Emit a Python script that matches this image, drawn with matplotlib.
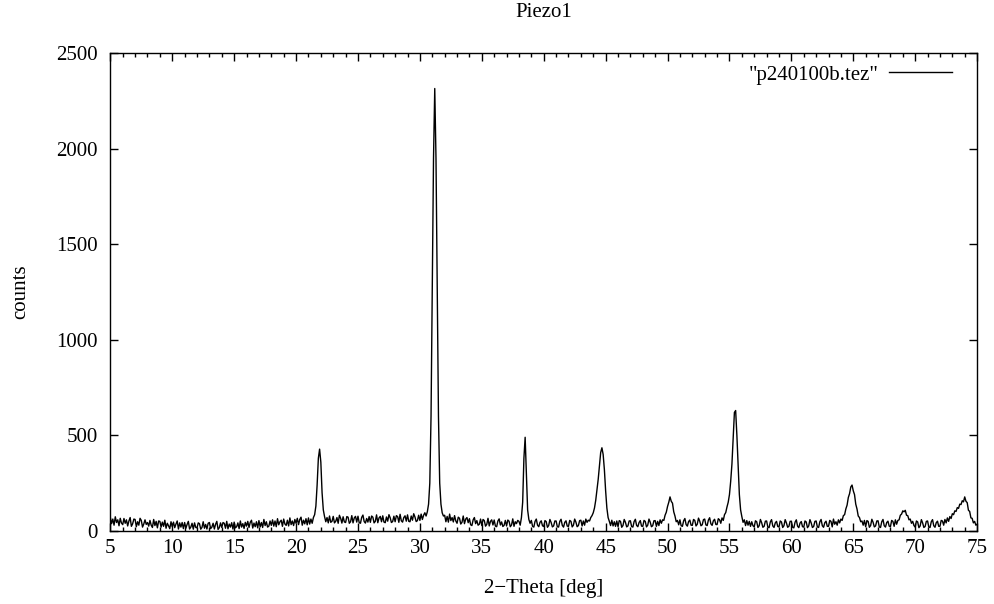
import numpy as np
import matplotlib
matplotlib.use("Agg")
import matplotlib.pyplot as plt
from matplotlib.ticker import MultipleLocator

plt.rcParams["font.family"] = ["Liberation Serif", "DejaVu Serif"]

# === Data: XRD scan, 0.1 deg steps from 5.0 to 75.0 ===
theta_start, theta_step = 5.0, 0.1
counts_rows = [
    [70, 38, 62, 30, 74, 44, 58, 27, 66, 41],              # 5
    [33, 65, 40, 58, 26, 52, 70, 24, 37, 62],              # 6
    [60, 22, 48, 30, 66, 55, 20, 36, 58, 34],              # 7
    [44, 25, 55, 30, 18, 60, 28, 50, 16, 52],              # 8
    [50, 20, 46, 24, 56, 14, 40, 27, 12, 48],              # 9
    [22, 46, 17, 36, 52, 10, 42, 20, 44, 12],              # 10
    [44, 14, 34, 50, 10, 20, 40, 9, 42, 18],               # 11
    [16, 42, 38, 9, 18, 48, 14, 34, 10, 40],               # 12
    [44, 12, 20, 40, 10, 35, 50, 8, 17, 42],               # 13
    [18, 44, 40, 14, 50, 11, 36, 20, 43, 10],              # 14
    [46, 16, 22, 42, 12, 52, 20, 38, 13, 45],              # 15
    [25, 50, 18, 45, 56, 15, 41, 22, 48, 16],              # 16
    [54, 21, 44, 18, 60, 28, 48, 20, 25, 52],              # 17
    [29, 58, 25, 52, 22, 64, 32, 48, 56, 24],              # 18
    [62, 36, 29, 56, 26, 68, 33, 52, 28, 60],              # 19
    [40, 66, 33, 60, 72, 30, 56, 37, 64, 32],              # 20
    [68, 36, 62, 40, 70, 85, 130, 240, 380, 428],          # 21
    [360, 200, 110, 75, 48, 70, 42, 78, 45, 50],           # 22
    [76, 42, 50, 70, 40, 82, 66, 41, 74, 47],              # 23
    [44, 75, 72, 40, 48, 80, 42, 68, 76, 46],              # 24
    [77, 43, 40, 71, 83, 49, 41, 65, 46, 75],              # 25
    [45, 78, 72, 42, 50, 84, 43, 68, 76, 48],              # 26
    [79, 46, 43, 73, 51, 85, 69, 44, 49, 77],              # 27
    [48, 80, 75, 45, 87, 53, 46, 70, 79, 51],              # 28
    [84, 50, 48, 78, 56, 90, 73, 49, 54, 82],              # 29
    [55, 88, 60, 82, 95, 78, 100, 140, 250, 600],          # 30
    [1250, 1950, 2315, 1950, 1250, 600, 250, 140, 95, 78], # 31
    [82, 48, 76, 46, 88, 54, 70, 47, 80, 52],              # 32
    [40, 72, 66, 36, 45, 78, 38, 62, 70, 43],              # 33
    [64, 32, 28, 58, 70, 38, 54, 30, 35, 62],              # 34
    [28, 60, 54, 25, 34, 66, 26, 50, 58, 31],              # 35
    [57, 25, 22, 52, 63, 31, 47, 23, 29, 55],              # 36
    [26, 57, 51, 22, 31, 63, 24, 48, 38, 55],              # 37
    [50, 30, 70, 150, 380, 490, 300, 110, 60, 40],         # 38
    [55, 24, 20, 50, 62, 30, 22, 45, 53, 27],              # 39
    [23, 54, 49, 19, 28, 60, 44, 21, 26, 52],              # 40
    [52, 22, 20, 50, 61, 29, 20, 45, 53, 25],              # 41
    [24, 55, 50, 21, 30, 62, 46, 22, 28, 54],              # 42
    [56, 26, 52, 30, 62, 45, 56, 52, 70, 80],              # 43
    [95, 120, 160, 215, 270, 340, 410, 435, 400, 320],     # 44
    [210, 120, 70, 50, 28, 56, 26, 48, 24, 52],            # 45
    [22, 54, 50, 19, 28, 60, 45, 21, 26, 52],              # 46
    [53, 23, 20, 49, 61, 29, 22, 44, 54, 25],              # 47
    [24, 55, 50, 21, 30, 62, 46, 22, 27, 53],              # 48
    [54, 24, 50, 28, 58, 40, 58, 55, 82, 98],              # 49
    [128, 150, 178, 155, 145, 100, 78, 48, 55, 32],        # 50
    [58, 27, 24, 53, 65, 33, 25, 49, 57, 30],              # 51
    [29, 60, 55, 26, 35, 67, 51, 27, 32, 59],              # 52
    [62, 31, 28, 57, 69, 37, 29, 53, 61, 34],              # 53
    [33, 64, 58, 40, 68, 55, 85, 96, 125, 150],            # 54
    [190, 260, 350, 480, 620, 630, 500, 340, 190, 110],    # 55
    [75, 45, 58, 28, 54, 30, 50, 24, 48, 27],              # 56
    [21, 53, 48, 18, 27, 60, 43, 19, 24, 51],              # 57
    [52, 20, 17, 47, 59, 26, 18, 42, 50, 23],              # 58
    [21, 52, 47, 18, 27, 59, 42, 19, 24, 50],              # 59
    [51, 19, 16, 46, 58, 25, 17, 41, 49, 22],              # 60
    [20, 52, 47, 17, 26, 59, 42, 18, 23, 50],              # 61
    [52, 21, 18, 48, 60, 27, 19, 43, 51, 24],              # 62
    [24, 55, 50, 21, 62, 35, 48, 30, 58, 42],              # 63
    [62, 55, 80, 85, 115, 135, 175, 195, 230, 240],        # 64
    [210, 190, 140, 115, 78, 70, 48, 52, 30, 55],          # 65
    [22, 54, 50, 19, 28, 61, 45, 21, 26, 52],              # 66
    [53, 21, 18, 48, 60, 27, 20, 44, 51, 25],              # 67
    [22, 55, 50, 24, 58, 35, 55, 58, 82, 88],              # 68
    [105, 100, 108, 82, 80, 58, 62, 40, 50, 28],           # 69
    [20, 52, 47, 17, 26, 59, 42, 18, 23, 50],              # 70
    [52, 20, 18, 48, 59, 27, 19, 43, 51, 24],              # 71
    [24, 55, 52, 30, 60, 42, 68, 50, 75, 65],              # 72
    [90, 85, 105, 102, 122, 118, 140, 138, 158, 152],      # 73
    [178, 155, 148, 108, 102, 68, 66, 42, 50, 30],         # 74
    [35],                                                  # 75
]
counts = np.array([v for row in counts_rows for v in row], dtype=float)
two_theta = theta_start + theta_step * np.arange(len(counts))

# === Figure ===
fig, ax = plt.subplots(figsize=(9.94, 6.04), dpi=100)
fig.subplots_adjust(left=0.111, right=0.983, top=0.912, bottom=0.121)

ax.plot(two_theta, counts, color="black", linewidth=1.0, label='"p240100b.tez"')

ax.set_xlim(5, 75)
ax.set_ylim(0, 2500)
ax.xaxis.set_major_locator(MultipleLocator(5))
ax.xaxis.set_minor_locator(MultipleLocator(1))
ax.yaxis.set_major_locator(MultipleLocator(500))

ax.tick_params(axis="both", which="major", direction="in", length=6,
               width=1, top=True, right=True, labelsize=15)
ax.tick_params(axis="x", which="major", pad=6)
ax.tick_params(axis="y", which="major", pad=9)
ax.tick_params(axis="x", which="minor", direction="in", length=3,
               width=1, top=True)
for s in ax.spines.values():
    s.set_linewidth(1)

ax.set_title("Piezo1", fontsize=15, pad=26)
ax.set_xlabel("2\u2212Theta [deg]", fontsize=15, labelpad=15)
ax.set_ylabel("counts", fontsize=15, labelpad=19)

ax.legend(loc="upper right", bbox_to_anchor=(0.971, 0.975), frameon=False,
          markerfirst=False, fontsize=15, handlelength=3.0, handletextpad=0.5,
          borderpad=0, borderaxespad=0)

plt.savefig("out.png", dpi=100)
